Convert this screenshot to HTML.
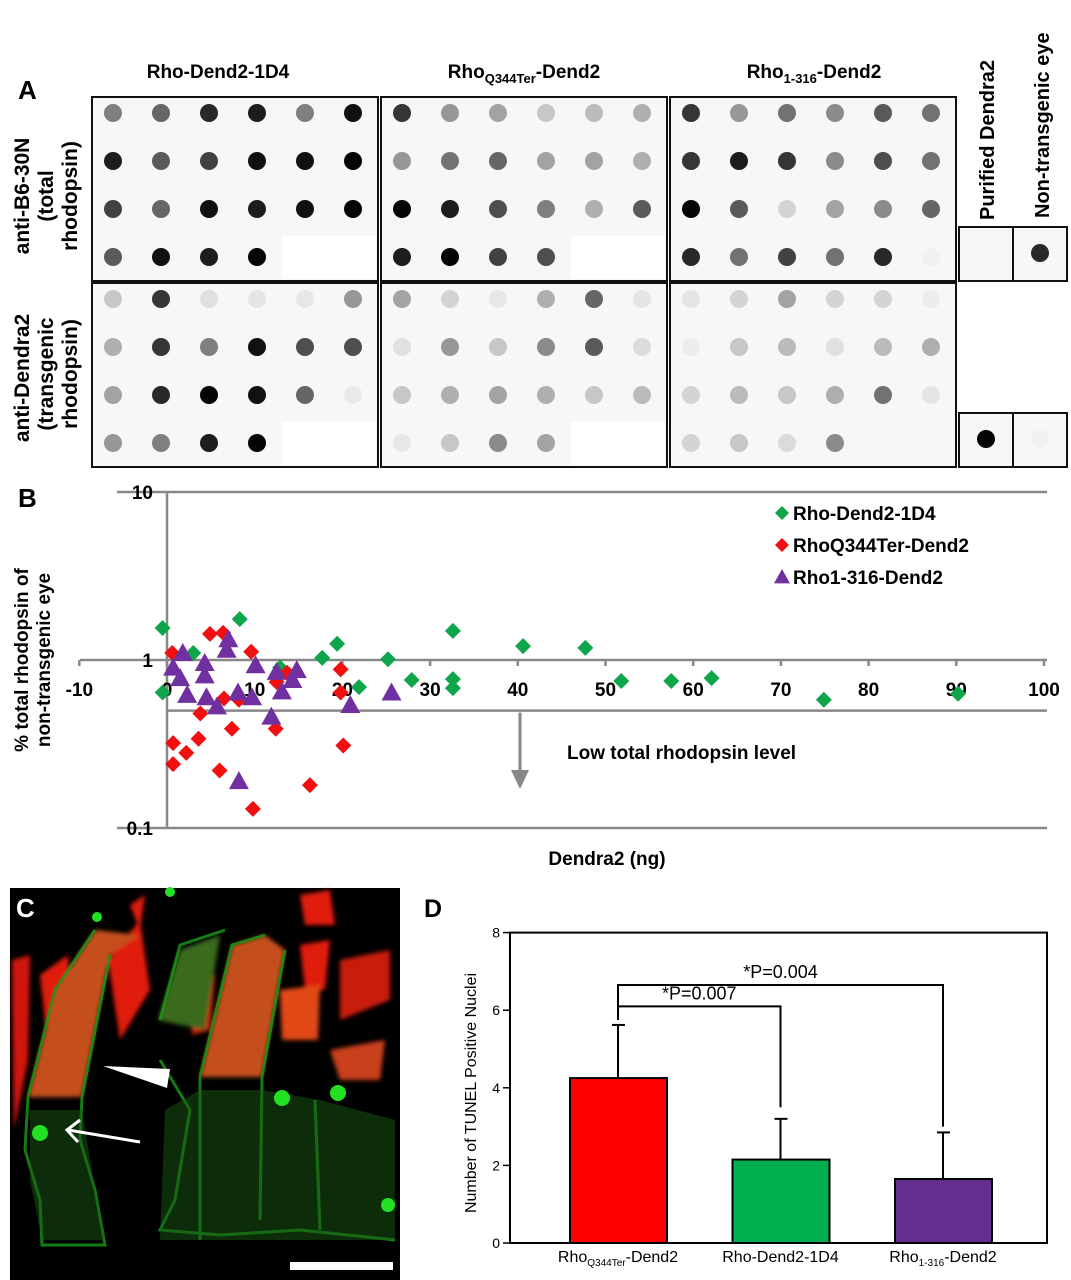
<!DOCTYPE html>
<html><head><meta charset="utf-8"><style>
html,body{margin:0;padding:0;background:#fff;}
svg{display:block;font-family:"Liberation Sans",Arial,sans-serif;}
</style></head><body>
<svg id="fig" width="1071" height="1280" viewBox="0 0 1071 1280" xmlns="http://www.w3.org/2000/svg">
<rect width="1071" height="1280" fill="#fff"/>
<!-- Panel A -->
<g id="panelA">
<text x="18" y="99" font-size="26" font-weight="bold">A</text>
<text x="218" y="78" font-size="19" font-weight="bold" text-anchor="middle">Rho-Dend2-1D4</text>
<text x="524" y="78" font-size="19" font-weight="bold" text-anchor="middle">Rho<tspan font-size="13" dy="5">Q344Ter</tspan><tspan dy="-5">-Dend2</tspan></text>
<text x="814" y="78" font-size="19" font-weight="bold" text-anchor="middle">Rho<tspan font-size="13" dy="5">1-316</tspan><tspan dy="-5">-Dend2</tspan></text>
<g font-size="21" font-weight="bold" text-anchor="middle">
<text x="29" y="196" transform="rotate(-90 29 196)">anti-B6-30N</text>
<text x="53" y="196" transform="rotate(-90 53 196)">(total</text>
<text x="77" y="196" transform="rotate(-90 77 196)">rhodopsin)</text>
</g>
<g font-size="21" font-weight="bold" text-anchor="middle">
<text x="29" y="378" transform="rotate(-90 29 378)">anti-Dendra2</text>
<text x="53" y="374" transform="rotate(-90 53 374)">(transgenic</text>
<text x="77" y="374" transform="rotate(-90 77 374)">rhodopsin)</text>
</g>
<text x="994" y="220" font-size="20" font-weight="bold" transform="rotate(-90 994 220)">Purified Dendra2</text>
<text x="1049" y="218" font-size="20" font-weight="bold" transform="rotate(-90 1049 218)">Non-transgenic eye</text>
<g id="blots"></g>
</g>
<!-- Panel B -->
<g id="panelB">
<text x="18" y="507" font-size="26" font-weight="bold">B</text>
<g id="scatter"></g>
</g>
<!-- Panel C -->
<g id="panelC">
<rect x="10" y="888" width="390" height="392" fill="#000"/>
<defs><filter id="bl"><feGaussianBlur stdDeviation="2"/></filter></defs>
<g filter="url(#bl)">
<polygon points="12,960 30,955 28,1060 14,1130" fill="#d0180c"/>
<polygon points="40,975 68,955 72,1040 50,1065" fill="#e01a10"/>
<polygon points="108,960 140,920 150,990 120,1040" fill="#e01a10"/>
<polygon points="130,905 145,895 140,930" fill="#e01a10"/>
<polygon points="300,895 330,890 335,925 305,925" fill="#e01a10"/>
<polygon points="300,945 330,940 325,990 305,990" fill="#e01a10"/>
<polygon points="340,960 390,950 390,1000 340,1020" fill="#c81a10"/>
<polygon points="190,990 215,975 210,1030 192,1035" fill="#d01a10"/>
<polygon points="330,1050 385,1040 380,1080 340,1080" fill="#c8401a"/>
<polygon points="280,990 320,985 318,1040 282,1040" fill="#e04a18"/>
<polygon points="28,1097 82,1097 110,955 140,935 95,930 55,990" fill="#c4501c"/>
<polygon points="200,1077 262,1077 285,950 265,935 232,945" fill="#c4501c"/>
<polygon points="158,1020 180,950 220,935 205,1030" fill="#3a6a1a"/>
</g>
<g fill="none" stroke="#1a9a1a" stroke-width="3" opacity="0.8">
<path d="M28,1097 L55,990 L95,930 M82,1097 L110,955"/>
<path d="M28,1097 L25,1150 L40,1200 L42,1245 L105,1245 L95,1190 L80,1140 L82,1097"/>
<path d="M200,1077 L232,945 L265,935 M262,1077 L285,950"/>
<path d="M160,1060 L190,1110 L175,1200 L160,1230 L220,1235 L300,1230 L395,1240"/>
<path d="M200,1077 L200,1240 M262,1077 L260,1220 M315,1100 L320,1230"/>
<path d="M160,1020 L180,945 L225,930"/>
</g>
<g fill="#1a5a14" opacity="0.5">
<polygon points="165,1110 200,1090 262,1090 320,1100 395,1120 395,1240 160,1240"/>
<polygon points="30,1110 82,1110 95,1190 105,1240 42,1240 30,1180"/>
</g>
<g fill="#22e022">
<circle cx="40" cy="1133" r="8"/>
<circle cx="282" cy="1098" r="8"/>
<circle cx="338" cy="1093" r="8"/>
<circle cx="97" cy="917" r="5"/>
<circle cx="388" cy="1205" r="7"/>
<circle cx="170" cy="892" r="5"/>
</g>
<polygon points="103,1066 170,1069 167,1088" fill="#fff"/>
<g stroke="#fff" stroke-width="3" fill="none">
<line x1="140" y1="1142" x2="68" y2="1130"/>
<polyline points="80,1120 67,1130 78,1142"/>
</g>
<rect x="290" y="1262" width="103" height="8" fill="#fff"/>
<text x="16" y="917" font-size="26" font-weight="bold" fill="#fff">C</text>
</g>
<!-- Panel D -->
<g id="panelD">
<text x="424" y="917" font-size="25" font-weight="bold">D</text>
<g id="bars"></g>
</g>
</svg>
<script>
const NS="http://www.w3.org/2000/svg";
function mk(tag,attrs,parent){const e=document.createElementNS(NS,tag);for(const k in attrs)e.setAttribute(k,attrs[k]);parent.appendChild(e);return e;}

/* ---------- Panel A dot blot intensities (0 white .. 1 black) ---------- */
const blotTop1=[[.5,.6,.85,.9,.5,.95],[.9,.65,.75,.95,.95,1],[.75,.6,.95,.9,.95,1],[.65,.95,.9,1,null,null]];
const blotBot1=[[.2,.8,.1,.08,.07,.4],[.3,.8,.5,.95,.7,.7],[.35,.85,1,.95,.6,.06],[.4,.5,.9,1,null,null]];
const blotTop2=[[.8,.4,.35,.2,.25,.3],[.4,.55,.6,.35,.35,.3],[1,.9,.7,.5,.3,.65],[.9,1,.75,.7,null,null]];
const blotBot2=[[.35,.15,.07,.3,.6,.08],[.1,.4,.2,.45,.65,.12],[.2,.3,.35,.3,.2,.25],[.07,.2,.45,.35,null,null]];
const blotTop3=[[.8,.4,.55,.45,.65,.55],[.8,.9,.8,.45,.7,.55],[1,.65,.15,.35,.45,.6],[.85,.55,.75,.55,.85,.03]];
const blotBot3=[[.08,.15,.35,.15,.15,.05],[.05,.2,.25,.1,.25,.3],[.15,.25,.2,.3,.55,.08],[.15,.2,.12,.45,0,0]];
const blotControlsTop=[0,0.85];
const blotControlsBot=[1,0.03];

const blots=document.getElementById('blots');
function shade(v){const g=Math.round(248-v*243);return `rgb(${g},${g},${g})`;}
function drawBlock(data,x0,y0,name){
  const g=mk('g',{},blots);
  
  
  const r=mk('rect',{x:x0,y:y0,width:286,height:184,fill:'#f7f7f7',stroke:'#111','stroke-width':2},g);
  
  
  data.forEach((row,i)=>row.forEach((v,j)=>{
    const cx=x0+21+j*48, cy=y0+16+i*48;
    if(v===null){return;}
    const c=mk('circle',{cx:cx,cy:cy,r:9,fill:shade(v)},g);
    
    
  }));
  if(data[3][4]===null){
    const w=mk('rect',{x:x0+190,y:y0+139,width:94,height:43,fill:'#fff'},g);
    
    
  }
}
drawBlock(blotTop1,92,97,'blot-rho-dend2-1d4-total');
drawBlock(blotTop2,381,97,'blot-q344ter-total');
drawBlock(blotTop3,670,97,'blot-1-316-total');
drawBlock(blotBot1,92,283,'blot-rho-dend2-1d4-dendra2');
drawBlock(blotBot2,381,283,'blot-q344ter-dendra2');
drawBlock(blotBot3,670,283,'blot-1-316-dendra2');
function ctrlBox(x,y,v,name){
  const r=mk('rect',{x:x,y:y,width:54,height:54,fill:'#f7f7f7',stroke:'#111','stroke-width':2},blots);
  
  
  if(v>0){const c=mk('circle',{cx:x+27,cy:y+26,r:9,fill:shade(v)},blots);
    
    }
}
ctrlBox(959,227,blotControlsTop[0],'purified-dendra2-total-blot');
ctrlBox(1013,227,blotControlsTop[1],'non-transgenic-total-blot');
ctrlBox(959,413,blotControlsBot[0],'purified-dendra2-dendra2-blot');
ctrlBox(1013,413,blotControlsBot[1],'non-transgenic-dendra2-blot');

/* ---------- Panel B scatter ---------- */
const xTicks=[-10,0,10,20,30,40,50,60,70,80,90,100];
const yTicks=[10,1,0.1];
const yTickLabels=["10","1","0.1"];
const greenX=[-0.5,-0.5,8.3,3,12.9,17.7,19.4,21.9,25.2,27.9,32.6,32.6,32.6,40.6,47.7,51.8,57.5,62.1,74.9,90.2];
const greenY=[1.55,0.64,1.75,1.1,0.9,1.03,1.25,0.69,1.01,0.76,1.49,0.77,0.68,1.21,1.18,0.75,0.75,0.78,0.58,0.63];
const redX=[0.6,4.9,6.4,9.6,19.8,19.8,6.5,8.2,12.5,13.7,3.8,7.4,12.4,0.7,3.6,2.2,0.7,6.0,20.1,16.3,9.8];
const redY=[1.1,1.43,1.45,1.12,0.88,0.64,0.59,0.58,0.74,0.84,0.48,0.39,0.39,0.32,0.34,0.28,0.24,0.22,0.31,0.18,0.13];
const purpleX=[1.8,0.7,1.5,2.3,4.3,4.3,4.5,5.7,7.0,6.8,8.1,9.7,10.1,12.5,13.1,14.3,14.8,11.9,8.2,20.9,25.6];
const purpleY=[1.1,0.9,0.78,0.62,0.96,0.81,0.6,0.53,1.33,1.15,0.64,0.6,0.93,0.85,0.65,0.76,0.87,0.46,0.19,0.54,0.64];
const lowThreshold=0.5;
const legendLabels=["Rho-Dend2-1D4","RhoQ344Ter-Dend2","Rho1-316-Dend2"];

const sx=v=>167+v*8.77;
const sy=v=>660-Math.log10(v)*168;
const sc=document.getElementById('scatter');
function ln(x1,y1,x2,y2,name,col,w){const l=mk('line',{x1:x1,y1:y1,x2:x2,y2:y2,stroke:col||'#888','stroke-width':w||2.5},sc);
  
  return l;}
ln(117,sy(10),1047,sy(10),'gridline-10');
ln(80,sy(1),1047,sy(1),'x-axis');
ln(117,sy(0.1),1047,sy(0.1),'gridline-0-1');
ln(sx(0),sy(lowThreshold),1047,sy(lowThreshold),'threshold-line');
ln(sx(0),sy(10),sx(0),sy(0.1),'y-axis');
xTicks.forEach(t=>{
  ln(sx(t),sy(1),sx(t),sy(1)+6,'x-tick');
  const tx=mk('text',{x:sx(t),y:sy(1)+36,'font-size':19,'font-weight':'bold','text-anchor':'middle'},sc);
  tx.textContent=t;
  
  
});
yTicks.forEach((t,i)=>{
  const tx=mk('text',{x:sx(0)-14,y:sy(t)+7,'font-size':19,'font-weight':'bold','text-anchor':'end'},sc);
  tx.textContent=yTickLabels[i];
  
  
});
function diamond(x,y,s,col,name){const p=mk('polygon',{points:`${x},${y-s} ${x+s},${y} ${x},${y+s} ${x-s},${y}`,fill:col},sc);
  
  }
function tri(x,y,s,col,name){const p=mk('polygon',{points:`${x},${y-s} ${x+s},${y+s*0.8} ${x-s},${y+s*0.8}`,fill:col},sc);
  
  }
greenX.forEach((v,i)=>diamond(sx(v),sy(greenY[i]),8,'#0fa54a','point-rho-dend2-1d4'));
redX.forEach((v,i)=>diamond(sx(v),sy(redY[i]),8,'#f01010','point-rho-q344ter'));
purpleX.forEach((v,i)=>tri(sx(v),sy(purpleY[i]),10,'#7030a0','point-rho-1-316'));
ln(520,sy(lowThreshold)+2,520,772,'low-level-arrow-shaft','#888',3);
const ah=mk('polygon',{points:'511,770 529,770 520,789',fill:'#888'},sc);


const lowT=mk('text',{x:567,y:759,'font-size':19,'font-weight':'bold'},sc);
lowT.textContent='Low total rhodopsin level';


const xt=mk('text',{x:607,y:865,'font-size':19,'font-weight':'bold','text-anchor':'middle'},sc);
xt.textContent='Dendra2 (ng)';


const yt1=mk('text',{x:28,y:660,'font-size':19,'font-weight':'bold','text-anchor':'middle',transform:'rotate(-90 28 660)'},sc);
yt1.textContent='% total rhodopsin of';


const yt2=mk('text',{x:50,y:660,'font-size':19,'font-weight':'bold','text-anchor':'middle',transform:'rotate(-90 50 660)'},sc);
yt2.textContent='non-transgenic eye';


const legCols=['#0fa54a','#f01010','#7030a0'];
legendLabels.forEach((lab,i)=>{
  const y=513+i*32;
  if(i<2)diamond(782,y,7,legCols[i],'legend-marker');else tri(782,y,8,legCols[i],'legend-marker');
  const t=mk('text',{x:793,y:y+7,'font-size':19,'font-weight':'bold'},sc);
  t.textContent=lab;
  
  
});

/* ---------- Panel D bar chart ---------- */
const barCats=["RhoQ344Ter-Dend2","Rho-Dend2-1D4","Rho1-316-Dend2"];
const barMeans=[4.25,2.15,1.65];
const barErr=[1.37,1.05,1.2];
const barTicks=[0,2,4,6,8];
const barCols=['#ff0000','#00b050','#662d91'];
const by=v=>1243-v*38.8;
const bx=i=>618+i*162.5;
const bg=document.getElementById('bars');
const frame=mk('rect',{x:510,y:by(8),width:537,height:by(0)-by(8),fill:'none',stroke:'#000','stroke-width':2},bg);


barTicks.forEach(t=>{
  const l=mk('line',{x1:503,y1:by(t),x2:510,y2:by(t),stroke:'#000','stroke-width':1.5},bg);
  
  
  const tx=mk('text',{x:500,y:by(t)+5,'font-size':14,'text-anchor':'end'},bg);
  tx.textContent=t;
  
  
});
barMeans.forEach((m,i)=>{
  const e=mk('line',{x1:bx(i),y1:by(m),x2:bx(i),y2:by(m+barErr[i]),stroke:'#000','stroke-width':2},bg);
  
  
  const c=mk('line',{x1:bx(i)-6,y1:by(m+barErr[i]),x2:bx(i)+7,y2:by(m+barErr[i]),stroke:'#000','stroke-width':2},bg);
  
  
  const r=mk('rect',{x:bx(i)-48,y:by(m),width:97,height:by(0)-by(m),fill:barCols[i],stroke:'#000','stroke-width':2},bg);
  
  
});
const catHtml=['Rho<tspan font-size="10" dy="4">Q344Ter</tspan><tspan dy="-4">-Dend2</tspan>','Rho-Dend2-1D4','Rho<tspan font-size="10" dy="4">1-316</tspan><tspan dy="-4">-Dend2</tspan>'];
barCats.forEach((c,i)=>{
  const t=mk('text',{x:bx(i),y:1262,'font-size':16,'text-anchor':'middle'},bg);
  t.innerHTML=catHtml[i];
  
  
});
const yT=mk('text',{x:476,y:1093,'font-size':16,'text-anchor':'middle',transform:'rotate(-90 476 1093)'},bg);
yT.textContent='Number of TUNEL Positive Nuclei';


const brackets=[[0,1,6.1,3.5,'*P=0.007'],[0,2,6.65,3.0,'*P=0.004']];
brackets.forEach(b=>{
  const x1=bx(b[0]),x2=bx(b[1]);
  const p=mk('polyline',{points:`${x1},${by(5.75)} ${x1},${by(b[2])} ${x2},${by(b[2])} ${x2},${by(b[3])}`,fill:'none',stroke:'#000','stroke-width':2},bg);
  
  
  const t=mk('text',{x:(x1+x2)/2,y:by(b[2])-7,'font-size':18,'text-anchor':'middle'},bg);
  t.textContent=b[4];
  
  
});
</script>
</body></html>
